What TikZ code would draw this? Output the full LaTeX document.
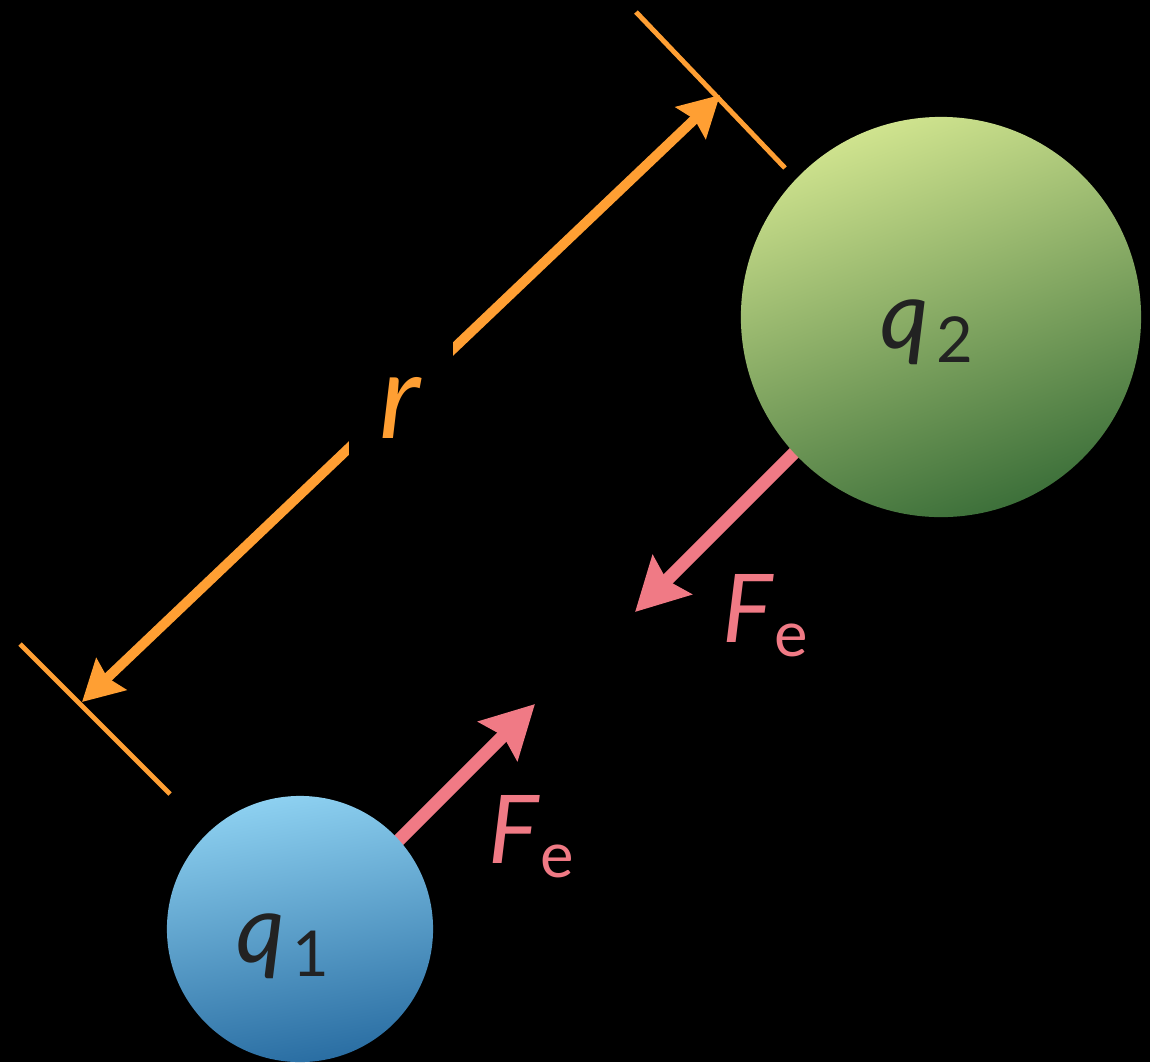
\documentclass[tikz,border=0pt]{standalone}
\usepackage{fontspec}
\setmainfont{Lato}
\usetikzlibrary{arrows.meta}

\definecolor{dimorange}{HTML}{FF9F33}
\definecolor{forcepink}{HTML}{F07A85}
\definecolor{chargetext}{HTML}{222222}
\definecolor{blueTop}{HTML}{8DD0F0}
\definecolor{blueBot}{HTML}{2A6EA3}
\definecolor{greenTop}{HTML}{CFE38E}
\definecolor{greenBot}{HTML}{3D703A}

\newcommand{\sublabel}[3][0cm]{\textit{#2}\hspace{#1}\raisebox{-0.14cm}{\fontsize{18}{18}\selectfont #3}}

\begin{document}
\begin{tikzpicture}[x=0.01cm, y=-0.01cm,
    charge/.style={circle, inner sep=0pt},
    qlabel/.style={text=chargetext, font=\fontsize{27}{27}\selectfont},
    dim/.style={dimorange, line width=2.8pt, {Stealth[length=11.4pt, width=12.2pt, inset=1.4pt]}-{Stealth[length=11.4pt, width=12.2pt, inset=1.4pt]}},
    dimtick/.style={dimorange, line width=1.4pt},
    force/.style={forcepink, line width=3.7pt, -{Stealth[length=14.8pt, width=15.4pt, inset=2pt]}},
    flabel/.style={text=forcepink, font=\fontsize{27}{27}\selectfont}
]

% Fondo
\useasboundingbox (0,0) rectangle (1150,1062);
\fill[black] (0,0) rectangle (1150,1062);

% Distancia r
\coordinate (rA) at (82,702);
\coordinate (rB) at (720,95);
\draw[dim] (rA) -- (rB) node[midway, fill=black, inner sep=0pt, minimum width=1.03cm, minimum height=1.4cm, yshift=-0.09cm, text=dimorange, font=\fontsize{34}{34}\selectfont] (rlbl) {\textit{r}};
\draw[dimtick] (636,12) -- (785,168);
\draw[dimtick] (20,644) -- (170,794);

% Fuerzas
\coordinate (f2start) at (805,442);
\coordinate (f2tip) at (635,612);
\coordinate (f1start) at (390,849);
\coordinate (f1tip) at (535,704);
\draw[force] (f2start) -- (f2tip);
\draw[force] (f1start) -- (f1tip);

% Cargas
\node[charge, minimum size=2.66cm, top color=blueTop, bottom color=blueBot, shading angle=10] (q1) at (300,929) {};
\node[charge, minimum size=4cm, top color=greenTop, bottom color=greenBot, shading angle=20] (q2) at (941,317) {};

\node[qlabel] (q1lbl) at (283,946) {\sublabel[0.08cm]{q}{1}};
\node[qlabel] (q2lbl) at (927,332) {\sublabel[0.08cm]{q}{2}};

\node[flabel] (fe2) at (765,616) {\sublabel{F}{e}};
\node[flabel] (fe1) at (531,837) {\sublabel{F}{e}};

\end{tikzpicture}
\end{document}
